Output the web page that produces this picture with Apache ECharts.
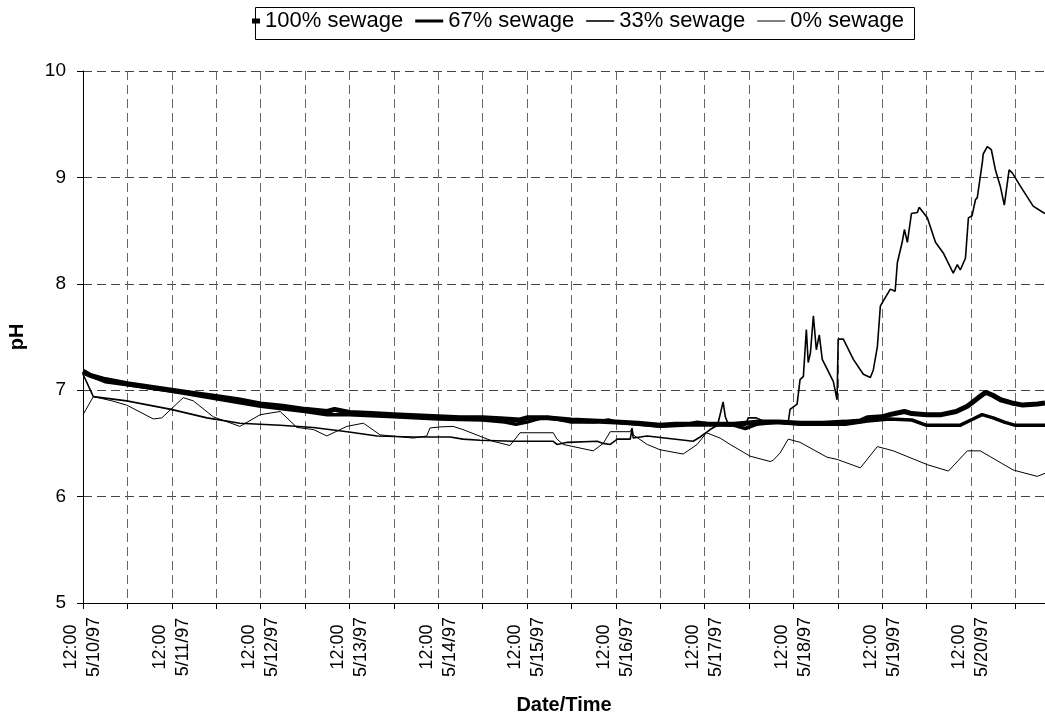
<!DOCTYPE html>
<html>
<head>
<meta charset="utf-8">
<script src="https://cdn.jsdelivr.net/npm/echarts@6/dist/echarts.min.js"></script>
<style>
html,body{margin:0;padding:0;background:#fff;}
#chart{width:1045px;height:717px;}
</style>
</head>
<body>
<div id="chart"></div>
<script>
// hours since 5/10/97 12:00
const seriesNames = ['100% sewage', '67% sewage', '33% sewage', '0% sewage'];
const timeLabel = '12:00';
const dateLabels = ['5/10/97','5/11/97','5/12/97','5/13/97','5/14/97','5/15/97','5/16/97','5/17/97','5/18/97','5/19/97','5/20/97'];

const t100 = [0,2,6,12,18,24,30,36,42,48,54,60,66,68,72,78,84,90,96,102,108,114,118,120,126,132,138,144,150,156,160,166,170,176,182,188,194,200,206,210,212,216,218,222,224,228,232,236,239,242,244,246,248,251,254,258,260];
const v100 = [7.18,7.14,7.10,7.06,7.03,7.00,6.97,6.94,6.91,6.87,6.85,6.82,6.80,6.82,6.79,6.78,6.77,6.76,6.75,6.74,6.74,6.73,6.72,6.74,6.74,6.72,6.71,6.70,6.69,6.67,6.68,6.68,6.68,6.68,6.70,6.70,6.69,6.69,6.70,6.71,6.74,6.75,6.77,6.80,6.78,6.77,6.77,6.80,6.85,6.93,6.98,6.95,6.91,6.88,6.86,6.87,6.88];

const t67 = [0,6,12,24,36,48,60,66,72,84,96,108,114,117,120,124,128,132,138,142,144,150,156,162,166,170,176,179,182,188,194,200,206,212,218,224,228,232,237,240,243,246,249,252,260];
const v67 = [7.16,7.08,7.05,6.99,6.92,6.85,6.80,6.77,6.77,6.75,6.73,6.72,6.70,6.68,6.70,6.74,6.73,6.70,6.70,6.72,6.70,6.68,6.66,6.67,6.70,6.68,6.67,6.64,6.68,6.70,6.68,6.68,6.68,6.71,6.73,6.72,6.67,6.67,6.67,6.72,6.77,6.74,6.70,6.67,6.67];

const t33 = [0,2.8,11.8,23.8,33.5,42.4,53.3,62.2,71.4,79.5,89.2,93.8,99.2,102.7,107.3,116.3,127.1,128.1,130.9,139.0,140.6,142.5,144.4,147.9,148.4,148.7,152.5,164.9,166.8,169.5,171.5,172.4,173.0,173.6,174.5,179.0,179.8,182.0,183.8,186.0,190.6,191.1,193.0,193.8,194.7,195.5,196.0,196.6,197.4,198.2,199.0,199.8,201.1,202.8,203.8,204.1,205.5,208.2,210.9,212.8,213.6,214.7,215.5,216.3,218.2,219.5,220.1,221.4,222.0,222.8,223.9,225.5,226.0,228.2,230.4,232.5,235.2,236.3,237.1,238.5,239.3,240.3,241.2,241.7,243.1,243.3,244.4,245.5,246.6,247.9,249.0,250.3,251.2,253.3,256.8,259.5,260.1];
const v33 = [7.15,6.94,6.90,6.82,6.74,6.69,6.67,6.65,6.61,6.57,6.56,6.56,6.56,6.54,6.53,6.52,6.52,6.49,6.51,6.52,6.50,6.49,6.54,6.54,6.64,6.55,6.57,6.52,6.56,6.63,6.67,6.80,6.89,6.75,6.67,6.67,6.74,6.74,6.71,6.70,6.70,6.82,6.87,7.10,7.13,7.57,7.26,7.35,7.70,7.38,7.52,7.29,7.20,7.08,6.91,7.48,7.48,7.29,7.15,7.12,7.19,7.41,7.79,7.84,7.95,7.93,8.20,8.39,8.51,8.39,8.66,8.67,8.72,8.62,8.39,8.29,8.10,8.18,8.13,8.24,8.62,8.64,8.79,8.81,9.15,9.22,9.29,9.26,9.07,8.92,8.74,9.07,9.04,8.92,8.73,8.67,8.66];

const t0 = [0,2.8,7.8,11.8,19.0,21.3,27.1,29.8,35.2,42.4,47.9,53.3,57.8,62.3,65.9,69.5,71.3,75.8,80.3,89.3,92.9,93.8,96.5,100.0,102.7,110.8,115.4,118.1,127.1,128.1,129.8,137.9,140.6,142.5,147.9,148.4,148.7,152.5,156.0,162.2,166.0,168.5,172.2,174.9,180.3,185.7,186.5,188.4,190.6,193.8,201.1,203.8,210.1,214.7,219.0,228.2,233.9,239.0,242.5,251.4,257.9,260.1];
const v0 = [6.77,6.94,6.90,6.86,6.73,6.74,6.93,6.90,6.75,6.66,6.77,6.80,6.65,6.63,6.57,6.63,6.66,6.69,6.58,6.55,6.57,6.645,6.655,6.66,6.63,6.52,6.48,6.60,6.60,6.54,6.49,6.43,6.50,6.61,6.61,6.645,6.58,6.49,6.44,6.40,6.49,6.60,6.55,6.49,6.38,6.33,6.34,6.41,6.54,6.51,6.37,6.35,6.27,6.47,6.43,6.30,6.24,6.43,6.43,6.25,6.19,6.22];

function pairs(t, v){ return t.map((x,i)=>[x, v[i]]); }

const font = 'Liberation Sans, Arial, sans-serif';
const widths = [5, 3.5, 1.6, 1];
const legendIcons = [
  'path://M0,0 M28,14 M20,4.5 L28,4.5 L28,9.5 L20,9.5 Z',
  'path://M0,0 M28,14 M0,5.5 L28,5.5 L28,8.5 L0,8.5 Z',
  'path://M0,0 M28,14 M0,6.2 L28,6.2 L28,7.8 L0,7.8 Z',
  'path://M0,0 M28,14 M0,6.5 L28,6.5 L28,7.5 L0,7.5 Z'
];
const datasets = [pairs(t100,v100), pairs(t67,v67), pairs(t33,v33), pairs(t0,v0)];

const chart = echarts.init(document.getElementById('chart'), null, {renderer:'canvas'});
chart.setOption({
  animation:false,
  backgroundColor:'#fff',
  textStyle:{fontFamily:font, color:'#000'},
  graphic:[{
    type:'rect', left:253, top:5, silent:true,
    shape:{x:0, y:0, width:659, height:32},
    style:{fill:'none', stroke:'#000', lineWidth:1}
  }],
  legend:{
    left:232, top:10,
    padding:0,
    itemGap:12, itemWidth:28, itemHeight:14,
    symbolKeepAspect:true,
    itemStyle:{borderWidth:0},
    textStyle:{fontSize:22, fontFamily:font, color:'#000'},
    data:seriesNames.map((n,i)=>({name:n, icon:legendIcons[i], itemStyle:{color:'#000', borderWidth:0}}))
  },
  grid:{left:83, right:0, top:71, bottom:114, containLabel:false, outerBoundsMode:'none'},
  xAxis:{
    type:'value', min:0, max:260, interval:12,
    name:'Date/Time', nameLocation:'middle', nameGap:92,
    nameTextStyle:{fontSize:20, fontWeight:'bold', fontFamily:font, color:'#000'},
    axisLine:{show:true, onZero:false, lineStyle:{color:'#000', width:1}},
    axisTick:{show:true, inside:false, length:6, lineStyle:{color:'#000'}},
    splitLine:{show:true, lineStyle:{color:'#666', type:[9,5], width:1}},
    axisLabel:{
      rotate:90, align:'center', verticalAlign:'middle', margin:44,
      fontSize:18, lineHeight:23, fontFamily:font, color:'#000',
      showMaxLabel:false,
      formatter:function(v){
        if (v % 24 === 0) { return timeLabel + '\n' + dateLabels[v/24]; }
        return '';
      }
    }
  },
  yAxis:{
    type:'value', min:5, max:10, interval:1,
    name:'pH', nameLocation:'middle', nameGap:56,
    nameTextStyle:{fontSize:20, fontWeight:'bold', fontFamily:font, color:'#000'},
    axisLine:{show:true, lineStyle:{color:'#000', width:1}},
    axisTick:{show:true, inside:false, length:6, lineStyle:{color:'#000'}},
    splitLine:{show:true, lineStyle:{color:'#444', type:[9,5], width:1}},
    axisLabel:{fontSize:19, margin:17, fontFamily:font, color:'#000'}
  },
  series: seriesNames.map((n,i)=>({
    name:n, type:'line', data:datasets[i],
    symbol:'none', showSymbol:false,
    lineStyle:{color:'#000', width:widths[i]},
    itemStyle:{color:'#000', borderWidth:0},
    z: 10 - i
  }))
});
</script>
</body>
</html>
